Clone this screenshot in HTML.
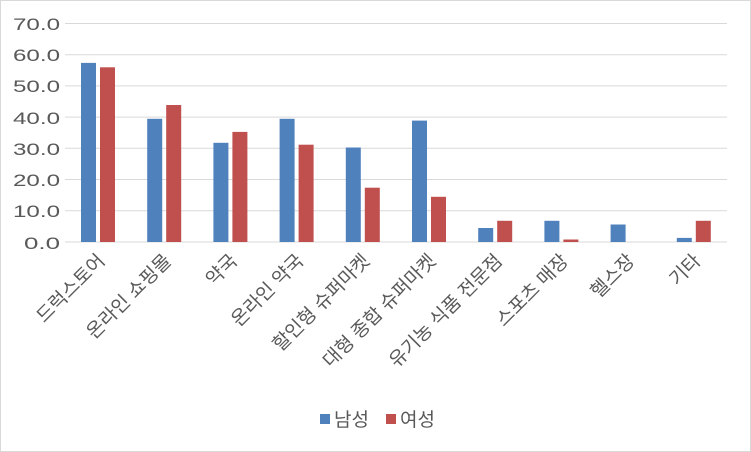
<!DOCTYPE html>
<html><head><meta charset="utf-8"><style>body{margin:0;background:#fff}svg{display:block}</style></head><body>
<svg width="751" height="452" xmlns="http://www.w3.org/2000/svg" font-family="'Liberation Sans','Noto Sans CJK KR',sans-serif">
<rect x="0.5" y="0.5" width="750" height="451" fill="#fff" stroke="#d9d9d9"/>
<g stroke="#d9d9d9" stroke-width="1">
<line x1="65" x2="727" y1="23.5" y2="23.5"/><line x1="65" x2="727" y1="54.7" y2="54.7"/><line x1="65" x2="727" y1="85.9" y2="85.9"/><line x1="65" x2="727" y1="117.1" y2="117.1"/><line x1="65" x2="727" y1="148.3" y2="148.3"/><line x1="65" x2="727" y1="179.5" y2="179.5"/><line x1="65" x2="727" y1="210.7" y2="210.7"/><line x1="65" x2="727" y1="242" y2="242"/>
</g>
<g font-size="17" fill="#595959">
<text x="13" y="30" textLength="47" lengthAdjust="spacingAndGlyphs">70.0</text>
<text x="13" y="61" textLength="47" lengthAdjust="spacingAndGlyphs">60.0</text>
<text x="13" y="92" textLength="47" lengthAdjust="spacingAndGlyphs">50.0</text>
<text x="13" y="124" textLength="47" lengthAdjust="spacingAndGlyphs">40.0</text>
<text x="13" y="155" textLength="47" lengthAdjust="spacingAndGlyphs">30.0</text>
<text x="13" y="186" textLength="47" lengthAdjust="spacingAndGlyphs">20.0</text>
<text x="13" y="217" textLength="47" lengthAdjust="spacingAndGlyphs">10.0</text>
<text x="24" y="249" textLength="36" lengthAdjust="spacingAndGlyphs">0.0</text>
</g>
<g fill="#4f81bd">
<rect x="81" y="62.9" width="15" height="179.1"/>
<rect x="147.2" y="118.8" width="15" height="123.2"/>
<rect x="213.4" y="142.8" width="15" height="99.2"/>
<rect x="279.6" y="118.8" width="15" height="123.2"/>
<rect x="345.8" y="147.5" width="15" height="94.5"/>
<rect x="412" y="120.6" width="15" height="121.4"/>
<rect x="478.2" y="228" width="15" height="14"/>
<rect x="544.4" y="220.8" width="15" height="21.2"/>
<rect x="610.6" y="224.5" width="15" height="17.5"/>
<rect x="676.8" y="237.9" width="15" height="4.1"/>
</g>
<g fill="#c0504d">
<rect x="100" y="67.3" width="15" height="174.7"/>
<rect x="166.2" y="105" width="15" height="137"/>
<rect x="232.4" y="131.9" width="15" height="110.1"/>
<rect x="298.6" y="144.7" width="15" height="97.3"/>
<rect x="364.8" y="187.7" width="15" height="54.3"/>
<rect x="431" y="196.8" width="15" height="45.2"/>
<rect x="497.2" y="220.8" width="15" height="21.2"/>
<rect x="563.4" y="239.5" width="15" height="2.5"/>
<rect x="695.8" y="220.8" width="15" height="21.2"/>
</g>
<g font-size="19" fill="#595959" text-anchor="end">
<text x="106" y="262" transform="rotate(-45 106 262)">드럭스토어</text>
<text x="172.2" y="262" transform="rotate(-45 172.2 262)">온라인 쇼핑몰</text>
<text x="238.4" y="262" transform="rotate(-45 238.4 262)">약국</text>
<text x="304.6" y="262" transform="rotate(-45 304.6 262)">온라인 약국</text>
<text x="370.8" y="262" transform="rotate(-45 370.8 262)">할인형 슈퍼마켓</text>
<text x="437" y="262" transform="rotate(-45 437 262)">대형 종합 슈퍼마켓</text>
<text x="503.2" y="262" transform="rotate(-45 503.2 262)">유기농 식품 전문점</text>
<text x="569.4" y="262" transform="rotate(-45 569.4 262)">스포츠 매장</text>
<text x="635.6" y="262" transform="rotate(-45 635.6 262)">헬스장</text>
<text x="701.8" y="262" transform="rotate(-45 701.8 262)">기타</text>
</g>
<rect x="320" y="414" width="10" height="10" fill="#4f81bd"/><text x="334" y="426" font-size="19" fill="#595959">남성</text>
<rect x="386" y="414" width="10" height="10" fill="#c0504d"/><text x="400" y="426" font-size="19" fill="#595959">여성</text>
</svg>
</body></html>
